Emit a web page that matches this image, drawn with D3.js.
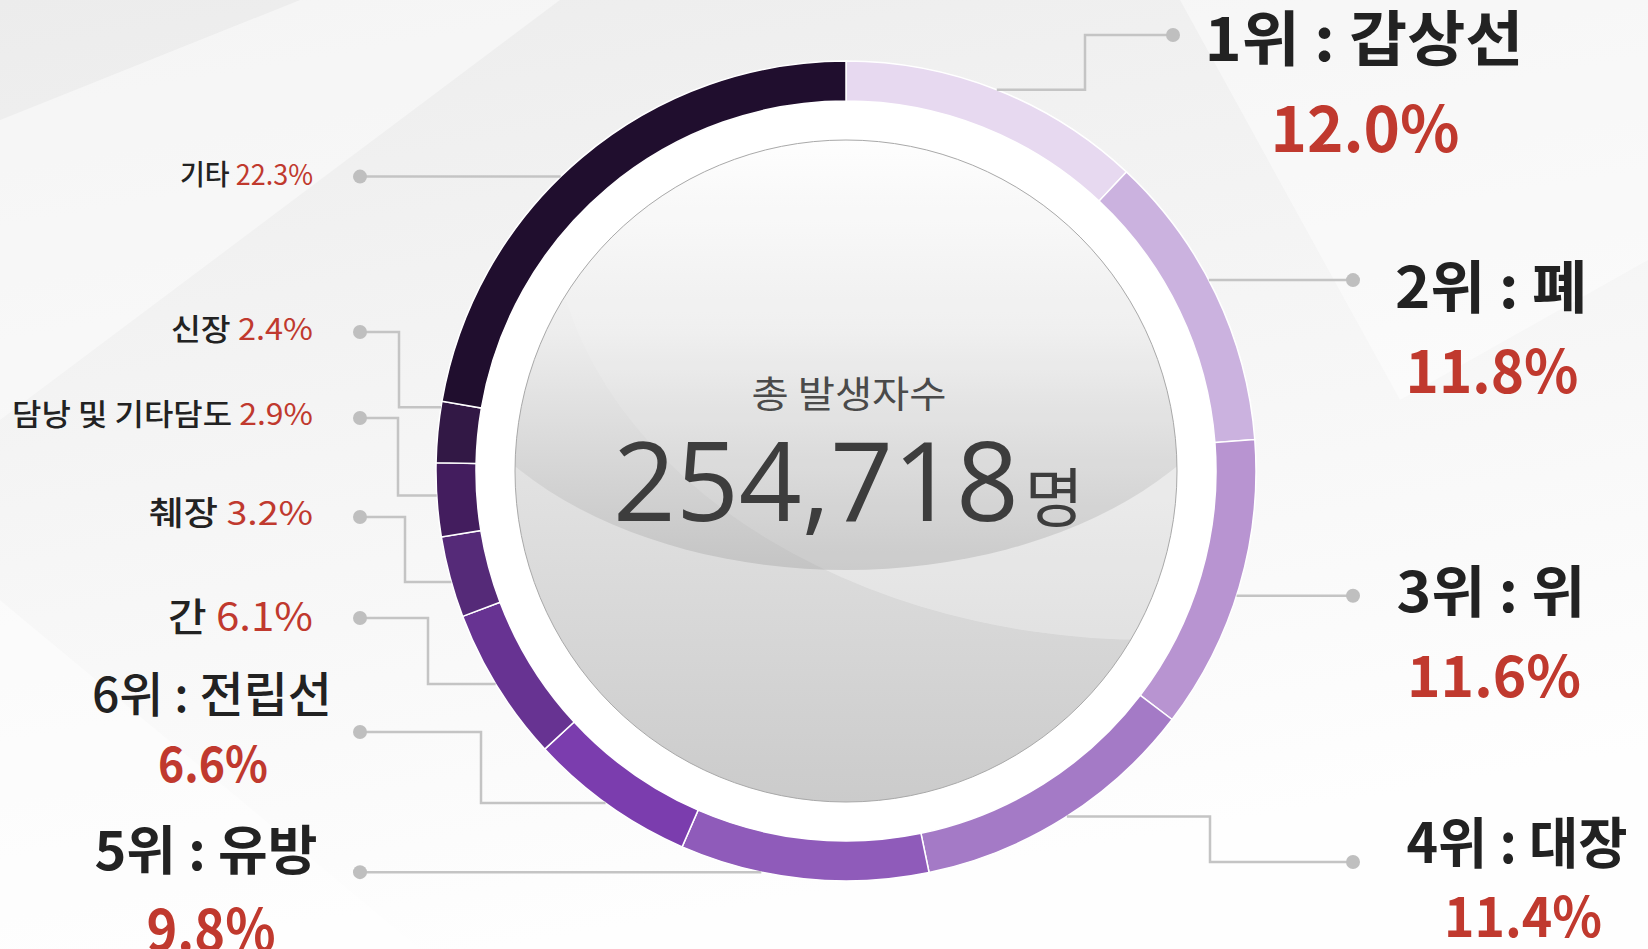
<!DOCTYPE html>
<html>
<head>
  <meta charset="utf-8">
  <title>암 발생 비율</title>
  <script src="https://d3js.org/d3.v7.min.js"></script>
  <style>
    html, body { margin: 0; padding: 0; overflow: hidden; }
    svg { display: block; font-family: "Noto Sans CJK KR", "Noto Sans", sans-serif; }
  </style>
</head>
<body>
  <svg id="chart" width="1648" height="949"></svg>

  <script>
    // data
    const sites = ["갑상선", "폐", "위", "대장", "유방", "전립선", "간", "췌장", "담낭 및 기타담도", "신장", "기타"];
    const ranks = [1, 2, 3, 4, 5, 6, null, null, null, null, null];
    const shares = [12.0, 11.8, 11.6, 11.4, 9.8, 6.6, 6.1, 3.2, 2.9, 2.4, 22.3];
    const totalCount = 254718;
    const totalLabel = "총 발생자수";
    const unit = "명";

    const colors = ["#e7d9f0", "#cbb2df", "#b894d1", "#a47ac6", "#8f5bba", "#7b3dae",
                    "#673392", "#552a78", "#431d5e", "#321845", "#200e2e"];

    const svg = d3.select("#chart");
    const W = 1648, H = 949;
    const cx = 846, cy = 471;
    const rOuter = 410, rInner = 370, rDisc = 331;

    // gradients
    const defs = svg.append("defs");
    const bg = defs.append("linearGradient").attr("id", "bg")
      .attr("x1", 0).attr("y1", 0).attr("x2", 0.3).attr("y2", 1);
    bg.append("stop").attr("offset", "0%").attr("stop-color", "#ececec");
    bg.append("stop").attr("offset", "55%").attr("stop-color", "#f6f6f6");
    bg.append("stop").attr("offset", "100%").attr("stop-color", "#fefefe");

    const disc = defs.append("linearGradient").attr("id", "disc")
      .attr("gradientUnits", "userSpaceOnUse")
      .attr("x1", 0).attr("y1", cy - rDisc).attr("x2", 0).attr("y2", cy + rDisc);
    disc.append("stop").attr("offset", "0%").attr("stop-color", "#f4f4f4");
    disc.append("stop").attr("offset", "50%").attr("stop-color", "#e2e2e2");
    disc.append("stop").attr("offset", "100%").attr("stop-color", "#cbcbcb");

    // top gloss: bright at the top, a darker rim at its lower edge
    const cap = defs.append("linearGradient").attr("id", "cap")
      .attr("gradientUnits", "userSpaceOnUse")
      .attr("x1", 0).attr("y1", cy - rDisc).attr("x2", 0).attr("y2", 570);
    cap.append("stop").attr("offset", "0%").attr("stop-color", "#fefefe");
    cap.append("stop").attr("offset", "45%").attr("stop-color", "#ededed");
    cap.append("stop").attr("offset", "100%").attr("stop-color", "#c4c4c4");

    defs.append("clipPath").attr("id", "discClip")
      .append("circle").attr("cx", cx).attr("cy", cy).attr("r", rDisc);

    svg.append("rect").attr("width", W).attr("height", H).attr("fill", "url(#bg)");

    // soft diagonal sheens on the backdrop
    const sheens = [
      [[0, 120], [300, 0], [560, 0], [0, 420]],
      [[1180, 0], [1648, 0], [1648, 260], [1400, 400]],
      [[0, 600], [420, 949], [0, 949]]
    ];
    svg.selectAll("path.sheen").data(sheens).join("path")
      .attr("class", "sheen")
      .attr("d", d => "M" + d.join("L") + "Z")
      .attr("fill", "#ffffff").attr("opacity", 0.45);

    // white gap ring + grey disc
    svg.append("circle").attr("cx", cx).attr("cy", cy).attr("r", rOuter).attr("fill", "#ffffff");
    svg.append("circle").attr("cx", cx).attr("cy", cy).attr("r", rDisc)
      .attr("fill", "url(#disc)");

    const gloss = svg.append("g").attr("clip-path", "url(#discClip)");
    gloss.append("ellipse").attr("cx", 1150).attr("cy", 200)
      .attr("rx", 600).attr("ry", 440).attr("fill", "#ffffff").attr("opacity", 0.22);
    gloss.append("ellipse").attr("cx", cx).attr("cy", 300)
      .attr("rx", 420).attr("ry", 270).attr("fill", "url(#cap)");
    gloss.append("ellipse").attr("cx", 1150).attr("cy", 200)
      .attr("rx", 600).attr("ry", 440).attr("fill", "#ffffff").attr("opacity", 0.12);

    svg.append("circle").attr("cx", cx).attr("cy", cy).attr("r", rDisc)
      .attr("fill", "none").attr("stroke", "#a9a9a9").attr("stroke-width", 1);

    // donut ring
    const pie = d3.pie().sort(null).value(d => d);
    const arcs = pie(shares);
    const arc = d3.arc().innerRadius(rInner).outerRadius(rOuter);

    const ring = svg.append("g").attr("transform", `translate(${cx},${cy})`);
    ring.selectAll("path").data(arcs).join("path")
      .attr("d", arc)
      .attr("fill", (d, i) => colors[i])
      .attr("stroke", "#ffffff")
      .attr("stroke-width", 1.5);

    // leader lines: anchor fraction inside each arc, optional elbow
    const leaders = [
      { t: 0.50, elbowX: 1085, dotY: 35,  dotX: 1173 },
      { t: 0.45, dotX: 1353 },
      { t: 0.53, dotX: 1353 },
      { t: 0.49, elbowX: 1210, dotY: 862, dotX: 1353 },
      { t: 0.67, dotX: 360 },
      { t: 0.52, elbowX: 481, dotY: 732, dotX: 360 },
      { t: 0.52, elbowX: 428, dotY: 618, dotX: 360 },
      { t: 0.44, elbowX: 405, dotY: 517, dotX: 360 },
      { t: 0.56, elbowX: 398, dotY: 418, dotX: 360 },
      { t: 0.90, elbowX: 399, dotY: 332, dotX: 360 },
      { t: 0.45, dotX: 360 }
    ];

    const leaderG = svg.append("g");
    arcs.forEach((a, i) => {
      const L = leaders[i];
      const ang = a.startAngle + L.t * (a.endAngle - a.startAngle);
      const ax = cx + rOuter * Math.sin(ang);
      const ay = cy - rOuter * Math.cos(ang);
      const pts = L.elbowX == null
        ? [[ax, ay], [L.dotX, ay]]
        : [[ax, ay], [L.elbowX, ay], [L.elbowX, L.dotY], [L.dotX, L.dotY]];
      leaderG.append("path")
        .attr("d", d3.line()(pts))
        .attr("fill", "none").attr("stroke", "#c4c4c4").attr("stroke-width", 2.5);
      const last = pts[pts.length - 1];
      leaderG.append("circle").attr("cx", last[0]).attr("cy", last[1]).attr("r", 7)
        .attr("fill", "#bfbfbf");
    });

    const fmt = d => d.toFixed(1) + "%";

    // ranked labels: title and percent, centred
    const bigLabels = [
      { x: 1364, y: 61,  size: 60, width: 319, px: 1365, py: 152, psize: 64, pwidth: 189 },
      { x: 1491, y: 308, size: 57, width: 192, px: 1492, py: 393, psize: 60, pwidth: 173 },
      { x: 1491, y: 612, size: 56, width: 189, px: 1494, py: 697, psize: 57, pwidth: 174 },
      { x: 1517, y: 863, size: 55, width: 221, px: 1523, py: 937, psize: 55, pwidth: 158 },
      { x: 206,  y: 870, size: 53, width: 223, px: 211,  py: 951, psize: 58, pwidth: 129 },
      { x: 212,  y: 712, size: 48, width: 240, px: 213,  py: 782, psize: 49, pwidth: 110, weight: 500 }
    ];

    const textG = svg.append("g");
    bigLabels.forEach((b, i) => {
      textG.append("text")
        .attr("x", b.x).attr("y", b.y)
        .attr("text-anchor", "middle")
        .attr("font-size", b.size)
        .attr("font-weight", b.weight || 700)
        .attr("fill", "#222222")
        .attr("textLength", b.width).attr("lengthAdjust", "spacingAndGlyphs")
        .text(`${ranks[i]}위 : ${sites[i]}`);
      textG.append("text")
        .attr("x", b.px).attr("y", b.py)
        .attr("text-anchor", "middle")
        .attr("font-size", b.psize)
        .attr("font-weight", 700)
        .attr("fill", "#c0392e")
        .attr("textLength", b.pwidth).attr("lengthAdjust", "spacingAndGlyphs")
        .text(fmt(shares[i]));
    });

    // small unranked labels, right aligned
    const smallLabels = [
      { i: 6,  y: 631, size: 39, width: 145 },
      { i: 7,  y: 525, size: 33, width: 164 },
      { i: 8,  y: 425, size: 30, width: 301 },
      { i: 9,  y: 340, size: 30, width: 142 },
      { i: 10, y: 185, size: 28, width: 133 }
    ];
    smallLabels.forEach(s => {
      const t = textG.append("text")
        .attr("x", 313).attr("y", s.y)
        .attr("text-anchor", "end")
        .attr("font-size", s.size)
        .attr("font-weight", 500)
        .attr("textLength", s.width).attr("lengthAdjust", "spacingAndGlyphs");
      t.append("tspan").attr("fill", "#222222").text(sites[s.i] + " ");
      t.append("tspan").attr("fill", "#c0392e").attr("font-weight", 400).text(fmt(shares[s.i]));
    });

    // centre total
    textG.append("text")
      .attr("x", 849).attr("y", 408)
      .attr("text-anchor", "middle")
      .attr("font-size", 37).attr("font-weight", 400)
      .attr("fill", "#4a4a4a")
      .attr("textLength", 195).attr("lengthAdjust", "spacingAndGlyphs")
      .text(totalLabel);

    const total = textG.append("text")
      .attr("x", 613).attr("y", 521)
      .attr("fill", "#3d3d3d");
    total.append("tspan")
      .attr("font-family", "'Open Sans', 'Noto Sans', sans-serif")
      .attr("font-size", 110).attr("font-weight", 400)
      .text(d3.format(",")(totalCount));
    total.append("tspan")
      .attr("dx", 6)
      .attr("font-size", 64).attr("font-weight", 400)
      .text(unit);
  </script>
</body>
</html>
